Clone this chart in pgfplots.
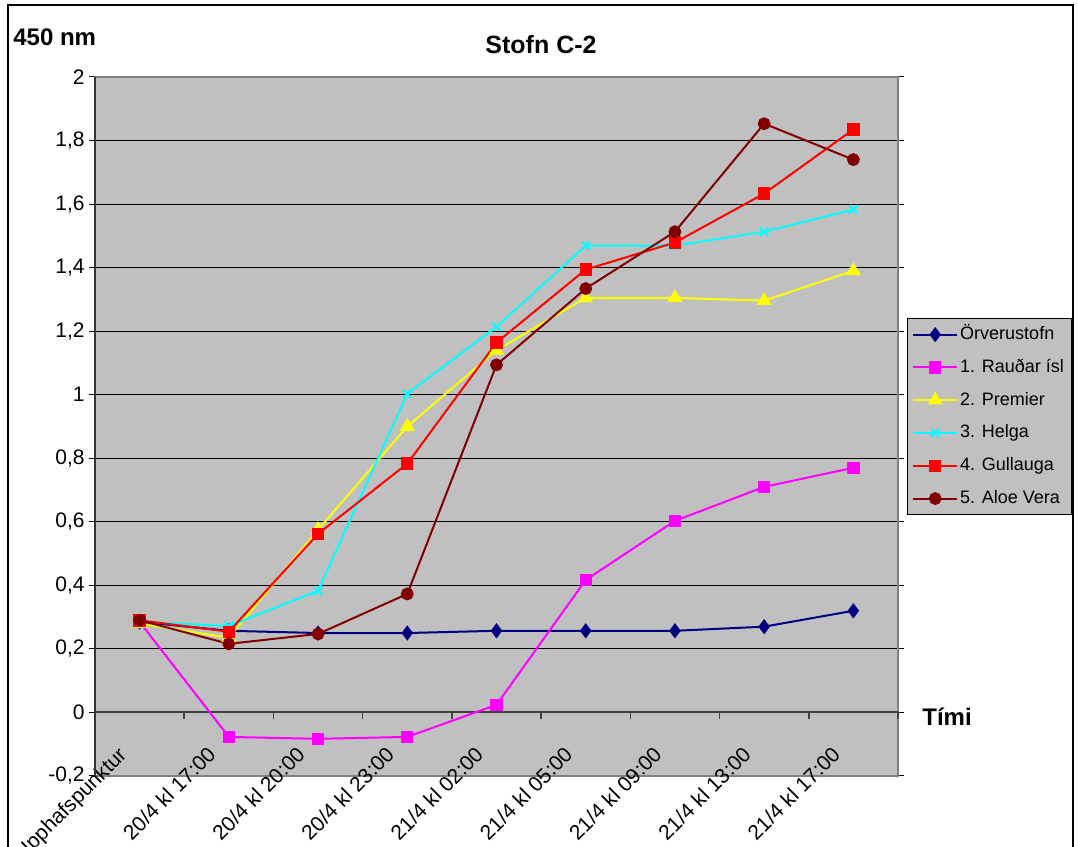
\documentclass[border=0pt]{standalone}
\usepackage{pgfplots}
\pgfplotsset{compat=1.18}
\usepackage{fontspec}
\setmainfont{Liberation Sans}
\definecolor{plotgray}{HTML}{C0C0C0}
\definecolor{framegray}{HTML}{808080}
\definecolor{sNavy}{HTML}{000080}
\definecolor{sMag}{HTML}{FF00FF}
\definecolor{sYel}{HTML}{FFFF00}
\definecolor{sCyan}{HTML}{00FFFF}
\definecolor{sRed}{HTML}{FF0000}
\definecolor{sDRed}{HTML}{800000}
\begin{document}
\begin{tikzpicture}
\useasboundingbox (0,0) rectangle (539pt,423.5pt);
\fill[white] (0,0) rectangle (539pt,423.5pt);
\draw[line width=0.75pt] (4pt,-5pt) -- (4pt,421pt) -- (536.5pt,421pt) -- (536.5pt,-5pt);
\begin{axis}[
  at={(47.5pt,35.5pt)}, anchor=south west,
  scale only axis, width=401.5pt, height=349.5pt,
  xmin=-0.5, xmax=8.5, ymin=-0.2, ymax=2,
  axis background/.style={fill=plotgray},
  axis line style={draw=framegray, line width=1pt},
  ytick={-0.2,0,0.2,0.4,0.6,0.8,1,1.2,1.4,1.6,1.8,2},
  ymajorgrids, major grid style={black, line width=0.5pt},
  tick align=outside, major tick length=3pt,
  ytick style={black, line width=0.5pt},
  xtick style={draw=none},
  /pgf/number format/.cd, use comma, fixed, assume math mode=true,
  /pgfplots/.cd,
  yticklabel style={font=\fontsize{10.5}{12}\selectfont, inner sep=0pt, anchor=east, xshift=-2pt},
  xtick={-0.255,0.745,1.745,2.745,3.745,4.745,5.745,6.745,7.745},
  xticklabels={Upphafspunktur,20/4 kl 17:00,20/4 kl 20:00,20/4 kl 23:00,21/4 kl 02:00,21/4 kl 05:00,21/4 kl 09:00,21/4 kl 13:00,21/4 kl 17:00},
  xticklabel style={font=\fontsize{10.5}{12}\selectfont, rotate=45, anchor=north east, inner sep=0pt},
  xticklabel shift=-18.5pt,
  clip=false,
  legend style={at={(axis description cs:1.011,0.655)}, anchor=north west, fill=plotgray, draw=black,
    font=\fontsize{9}{11}\selectfont, row sep=5.4pt, inner xsep=2.5pt, inner ysep=2.5pt,
    nodes={inner sep=1pt, text height=7pt, text depth=2pt},
    /tikz/every odd column/.append style={column sep=0pt}},
  legend cell align=left,
  legend image code/.code={\draw[mark repeat=2,mark phase=2,#1] plot coordinates {(0pt,0pt) (11pt,0pt) (22pt,0pt)};},
  every axis plot/.append style={line width=1pt},
]
\draw[black!75, line width=1pt] (axis cs:-0.5,0) -- (axis cs:8.5,0);
\pgfplotsinvokeforeach{0.5,1.5,2.5,3.5,4.5,5.5,6.5,7.5,8.5}{
  \draw[black!75, line width=0.75pt] (axis cs:#1,0) -- ++(0pt,-3.5pt);
}
\draw[black!80, line width=0.75pt] (axis cs:-0.5,-0.2) -- (axis cs:-0.5,2);
\addplot[color=sNavy, mark=diamond*, mark size=3pt, mark options={solid, fill=sNavy}] coordinates {
(0,0.285) (1,0.257) (2,0.25) (3,0.25) (4,0.257) (5,0.257) (6,0.257) (7,0.27) (8,0.32)};
\addlegendentry{Örverustofn}
\addplot[color=sMag, mark=square*, mark size=2.6pt, mark options={solid, fill=sMag}] coordinates {
(0,0.285) (1,-0.077) (2,-0.083) (3,-0.077) (4,0.024) (5,0.417) (6,0.603) (7,0.71) (8,0.77)};
\addlegendentry{1. Rauðar ísl}
\addplot[color=sYel, mark=triangle*, mark size=3.3pt, mark options={solid, fill=sYel}] coordinates {
(0,0.28) (1,0.235) (2,0.575) (3,0.90) (4,1.14) (5,1.305) (6,1.305) (7,1.296) (8,1.39)};
\addlegendentry{2. Premier}
\addplot[color=sCyan, mark=x, mark size=3pt, mark options={solid, line width=1pt}] coordinates {
(0,0.285) (1,0.272) (2,0.383) (3,1.003) (4,1.214) (5,1.469) (6,1.469) (7,1.513) (8,1.583)};
\addlegendentry{3. Helga}
\addplot[color=sRed, mark=square*, mark size=2.6pt, mark options={solid, fill=sRed}] coordinates {
(0,0.29) (1,0.254) (2,0.562) (3,0.783) (4,1.164) (5,1.394) (6,1.479) (7,1.633) (8,1.835)};
\addlegendentry{4. Gullauga}
\addplot[color=sDRed, mark=*, mark size=2.7pt, mark options={solid, fill=sDRed}] coordinates {
(0,0.29) (1,0.216) (2,0.247) (3,0.373) (4,1.094) (5,1.334) (6,1.513) (7,1.853) (8,1.74)};
\addlegendentry{5. Aloe Vera}
\end{axis}
\node[font=\bfseries\fontsize{12.5}{14}\selectfont] at (270.5pt,401pt) {Stofn C-2};
\node[font=\bfseries\fontsize{12}{14}\selectfont, anchor=west, inner sep=0pt] at (6.5pt,405pt) {450 nm};
\node[font=\bfseries\fontsize{12}{14}\selectfont, anchor=west, inner sep=0pt] at (461pt,65pt) {Tími};
\end{tikzpicture}
\end{document}
